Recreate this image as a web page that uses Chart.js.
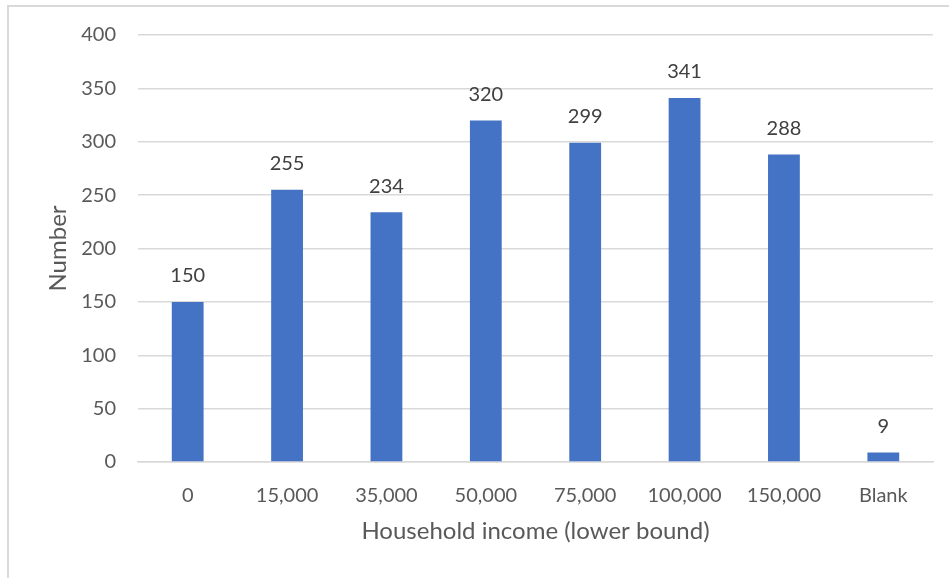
<!DOCTYPE html>
<html>
<head>
<meta charset="utf-8">
<script src="https://cdn.jsdelivr.net/npm/chart.js@4.4.1/dist/chart.umd.min.js"></script>
<style>
  html, body { margin: 0; padding: 0; background: #fff; }
  #wrap { position: relative; width: 949px; height: 578px; }
</style>
</head>
<body>
<div id="wrap"><canvas id="incomeChart" width="949" height="578"></canvas></div>
<script>
const faixas = ['0', '15,000', '35,000', '50,000', '75,000', '100,000', '150,000', 'Blank'];
const totais = [150, 255, 234, 320, 299, 341, 288, 9];
const ticksY = [0, 50, 100, 150, 200, 250, 300, 350, 400];

const fonte = 'Lato, "Open Sans", sans-serif';

// moldura cinza do gráfico (só aparece borda esquerda e superior)
const moldura = {
    id: 'moldura',
    beforeDraw(chart) {
        const c = chart.ctx;
        c.save();
        c.strokeStyle = '#d9d9d9';
        c.lineWidth = 2;
        c.beginPath();
        c.moveTo(8, chart.height);
        c.lineTo(8, 6);
        c.lineTo(chart.width, 6);
        c.stroke();
        c.restore();
    }
};

// rótulos de valor em cima de cada barra
const rotulos = {
    id: 'rotulos',
    afterDatasetsDraw(chart) {
        const c = chart.ctx;
        const meta = chart.getDatasetMeta(0);
        c.save();
        c.font = '20px ' + fonte;
        c.fillStyle = '#404040';
        c.textAlign = 'center';
        c.textBaseline = 'middle';
        meta.data.forEach(function (bar, i) {
            c.fillText(String(totais[i]), bar.x, bar.y - 26);
        });
        c.restore();
    }
};

new Chart(document.getElementById('incomeChart').getContext('2d'), {
    type: 'bar',
    data: {
        labels: faixas,
        datasets: [{
            label: 'Number',
            data: totais,
            backgroundColor: '#4472C4',
            borderWidth: 0,
            categoryPercentage: 1,
            barPercentage: 0.32
        }]
    },
    options: {
        responsive: false,
        animation: false,
        layout: { padding: { top: 35, right: 16, left: 0, bottom: 0 } },
        plugins: {
            legend: { display: false },
            tooltip: { enabled: false }
        },
        scales: {
            x: {
                grid: { display: false },
                border: { color: '#d9d9d9', width: 1.5 },
                ticks: {
                    color: '#595959',
                    font: { family: fonte, size: 20 },
                    padding: 14,
                    maxRotation: 0
                },
                title: {
                    display: true,
                    text: 'Household income (lower bound)',
                    color: '#595959',
                    font: { family: fonte, size: 24 },
                    padding: { top: 0, bottom: 32 }
                },
                afterFit(scale) { scale.height = 116; }
            },
            y: {
                min: 0,
                max: 400,
                afterBuildTicks(scale) {
                    scale.ticks = ticksY.map(v => ({ value: v }));
                },
                grid: { color: '#d9d9d9', lineWidth: 1.5, drawTicks: false },
                border: { display: false },
                ticks: {
                    color: '#595959',
                    font: { family: fonte, size: 20 },
                    padding: 22
                },
                title: {
                    display: true,
                    text: 'Number',
                    color: '#595959',
                    font: { family: fonte, size: 24 },
                    padding: { top: 44, bottom: 0 }
                },
                afterFit(scale) { scale.width = 138; }
            }
        }
    },
    plugins: [moldura, rotulos]
});
</script>
</body>
</html>
